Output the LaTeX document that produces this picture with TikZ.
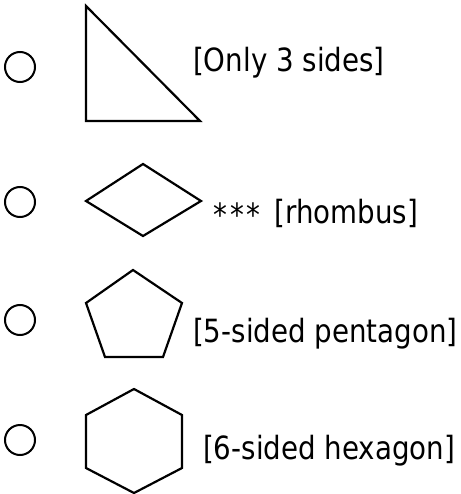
\documentclass[tikz,border=0pt]{standalone}
\usepackage{fontspec}
\setmainfont[FakeStretch=0.865]{DejaVu Sans}
\begin{document}
\begin{tikzpicture}[x=1pt,y=-1pt,
  polyline/.style={draw=black,line width=2.2pt,line join=miter},
  radio/.style={draw=black,line width=2pt},
  lbl/.style={anchor=base west,inner sep=0pt,font=\fontsize{32}{36}\selectfont}]
\useasboundingbox (0,0) rectangle (460,494);
% radio circles
\draw[radio] (20,67) circle (15);
\draw[radio] (20,202) circle (15);
\draw[radio] (20,320) circle (15);
\draw[radio] (20,440) circle (15);
% triangle
\draw[polyline] (86,6) -- (86,121) -- (200,121) -- cycle;
% rhombus
\draw[polyline] (86,201) -- (143,164) -- (201,201) -- (143,236) -- cycle;
% pentagon
\draw[polyline] (133,270) -- (182,303) -- (163,357) -- (105,357) -- (86,303) -- cycle;
% hexagon
\draw[polyline] (134,389) -- (182,415) -- (182,468) -- (134,493) -- (86,468) -- (86,415) -- cycle;
% labels
\node[lbl] (t1) at (193,72) {[Only 3 sides]};
\node[lbl] (t2) at (213,223) {\raisebox{-3pt}{*\kern3pt*\kern3pt*}\kern5pt\ [rhombus]};
\node[lbl] (t3) at (193,342) {[5-sided pentagon]};
\node[lbl] (t4) at (203,459) {[6-sided hexagon]};
\end{tikzpicture}
\end{document}
